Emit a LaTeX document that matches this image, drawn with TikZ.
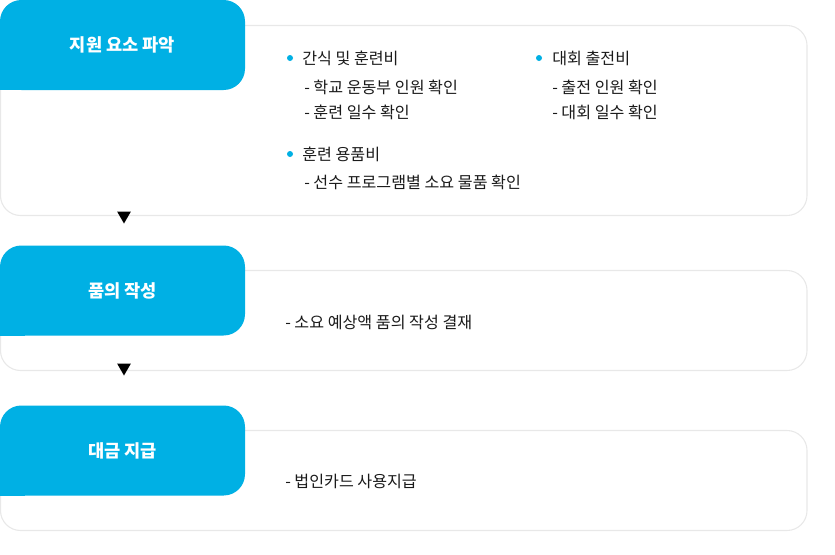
\documentclass[tikz,border=0pt]{standalone}
\usepackage{fontspec}
\setmainfont{Noto Sans CJK KR}
\usetikzlibrary{shapes.geometric}
\definecolor{stepblue}{HTML}{00B0E4}
\definecolor{bodytext}{HTML}{1A1A1A}

\tikzset{
 panel/.style={draw=black!9, line width=0.8pt, fill=white, rounded corners=15pt,
   minimum width=604.9pt, minimum height=75pt, inner sep=0pt, outer sep=0pt},
 stepbox/.style={fill=stepblue, rounded corners=16pt, minimum width=183.75pt,
   minimum height=67.5pt, inner sep=0pt, outer sep=0pt},
 steplabel/.style={text=white, font=\fontsize{13.2}{15}\selectfont\bfseries},
 item/.style={anchor=west, inner sep=0pt, text=bodytext,
   font=\fontsize{12.1}{14}\selectfont},
 dot/.style={circle, fill=stepblue, minimum size=4.5pt, inner sep=0pt},
 downtip/.style={regular polygon, regular polygon sides=3, shape border rotate=180,
   fill=black, minimum size=12pt, inner sep=0pt, outer sep=0pt}
}

\begin{document}
\begin{tikzpicture}[x=0.75pt,y=-0.75pt]
 \useasboundingbox (0,0) rectangle (835,554);

 % panels
 \node[panel, minimum height=142.5pt] (panelA) at (403.75,120.5) {};
 \node[panel] (panelB) at (403.75,320.5) {};
 \node[panel] (panelC) at (403.75,480.5) {};

 % step boxes
 \node[stepbox] (stepA) at (122.5,45) {};
 \fill[stepblue] (stepA.south west) rectangle ++(25,-25);
 \node[steplabel] at (stepA) {지원 요소 파악};

 \node[stepbox] (stepB) at (122.5,290.5) {};
 \fill[stepblue] (stepB.south west) rectangle ++(25,-25);
 \node[steplabel] at (stepB) {품의 작성};

 \node[stepbox] (stepC) at (122.5,450.5) {};
 \fill[stepblue] (stepC.south west) rectangle ++(25,-25);
 \node[steplabel] at (stepC) {대금 지급};

 % arrows
 \node[downtip] (downA) at (124,215.5) {};
 \node[downtip] (downB) at (124,367.5) {};

 % first panel
 \node[dot] (dotA) at (290,58) {};
 \node[item] (snack) at (302,58) {간식 및 훈련비};
 \node[item] (snackA) at (304,87) {- 학교 운동부 인원 확인};
 \node[item] (snackB) at (304,112) {- 훈련 일수 확인};

 \node[dot] (dotB) at (290,154) {};
 \node[item] (gear) at (302,154) {훈련 용품비};
 \node[item] (gearA) at (304,182) {- 선수 프로그램별 소요 물품 확인};

 \node[dot] (dotC) at (539,58) {};
 \node[item] (meet) at (552,58) {대회 출전비};
 \node[item] (meetA) at (552,87) {- 출전 인원 확인};
 \node[item] (meetB) at (552,112) {- 대회 일수 확인};

 % second and third panel
 \node[item] (draft) at (285,322) {- 소요 예상액 품의 작성 결재};
 \node[item] (pay) at (285,481) {- 법인카드 사용지급};

\end{tikzpicture}
\end{document}
